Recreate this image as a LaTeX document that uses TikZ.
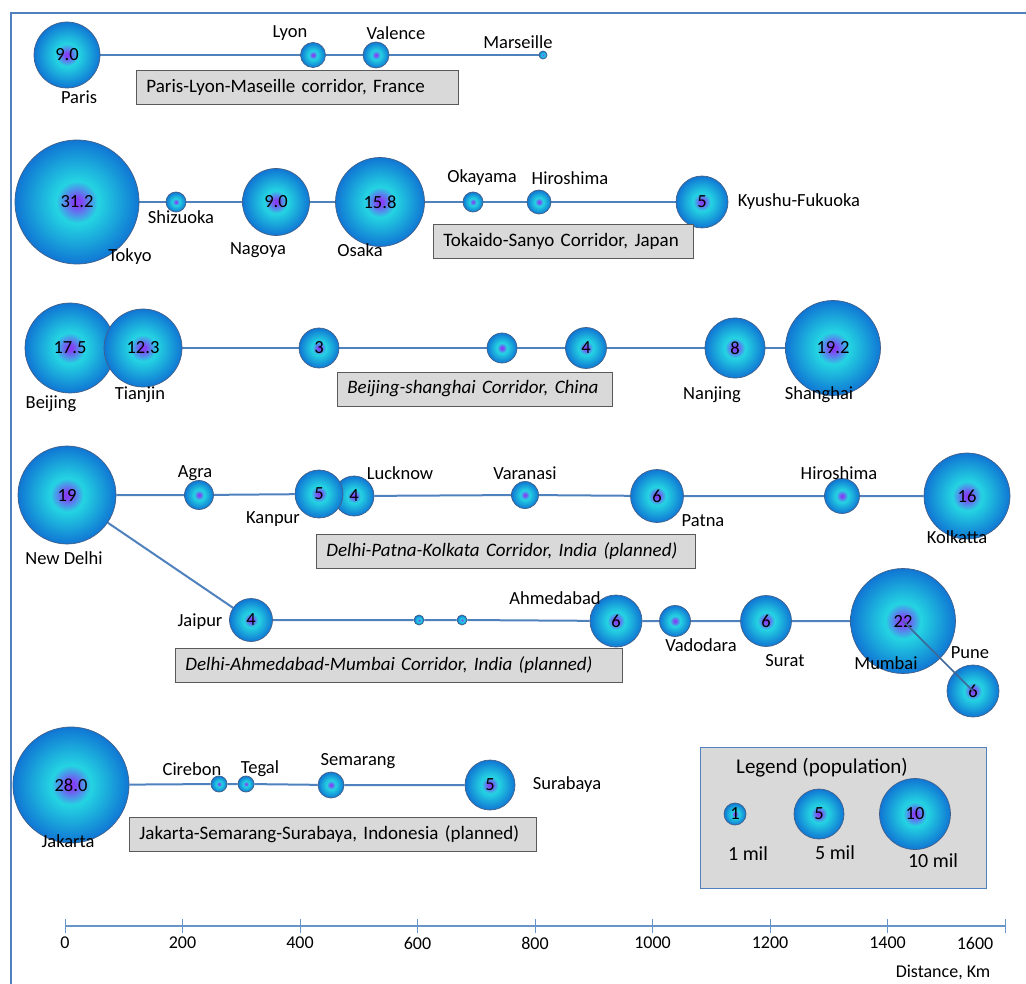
\documentclass[tikz,border=0pt]{standalone}
\usepackage{fontspec}
\setmainfont{Carlito}
\usepackage{tikz}
\usetikzlibrary{positioning,backgrounds}
\definecolor{frameblue}{RGB}{79,129,189}
\definecolor{bubbleblue}{RGB}{16,118,212}
\definecolor{bubblecyan}{RGB}{36,212,226}
\definecolor{bubblepurple}{RGB}{132,64,245}
\definecolor{bubbleedge}{RGB}{66,96,136}
\definecolor{boxgray}{RGB}{217,217,217}
\pgfdeclareradialshading{bubble}{\pgfpoint{0bp}{0bp}}{%
  color(0bp)=(bubblepurple); color(1.5bp)=(bubblepurple); color(8.5bp)=(bubblecyan);
  color(25bp)=(bubbleblue); color(50bp)=(bubbleblue)}
\tikzstyle{corrline} = [
    draw=frameblue,
    line width=2pt
]
\tikzstyle{axisline} = [
    draw=frameblue!85,
    line width=2pt
]

\begin{document}
\begin{tikzpicture}[
    x=1pt, y=-1pt,
    city/.style={circle, draw=bubbleedge, line width=0.7pt, shade, shading=bubble, inner sep=0pt, font=\fontsize{18.5}{20}\selectfont},
    citylabel/.style={inner sep=0pt, font=\fontsize{18.5}{20}\selectfont},
    corrbox/.style={rectangle, draw=black!65, fill=boxgray, line width=0.8pt, anchor=west, minimum height=34, inner xsep=10, align=left, font=\fontsize{19}{21}\selectfont},
    plannedbox/.style={corrbox, font=\fontsize{19}{21}\selectfont\itshape},
    legendbox/.style={rectangle, draw=frameblue, fill=boxgray, line width=1pt},
    ticklabel/.style={inner sep=0pt, font=\fontsize{18}{20}\selectfont}
]
    \useasboundingbox (0,0) rectangle (1026,984);

    % Frame
    \draw[draw=frameblue, line width=2.5pt] (11,984) -- (11,13) -- (1026,13);

    % France
    \node[city, minimum size=66] (paris) at (67,55) {9.0};
    \node[city, minimum size=25] (lyon) at (313,55) {};
    \node[city, minimum size=26] (valence) at (376,55) {};
    \node[city, minimum size=8] (marseille) at (543,55) {};
    \node[citylabel] (parislabel) at (79,97) {Paris};
    \node[citylabel] (lyonlabel) at (290,33) {Lyon};
    \node[citylabel] (valencelabel) at (396,33) {Valence};
    \node[citylabel] (marseillelabel) at (518,42) {Marseille};
    \node[corrbox, text width=302] (france) at (136,87) {Paris-Lyon-Maseille corridor, France};

    % Japan
    \node[city, minimum size=124] (tokyo) at (77,202) {31.2};
    \node[city, minimum size=20] (shizuoka) at (176,202) {};
    \node[city, minimum size=67] (nagoya) at (276,202) {9.0};
    \node[city, minimum size=89] (osaka) at (380,202) {15.8};
    \node[city, minimum size=20] (okayama) at (473,202) {};
    \node[city, minimum size=24] (hiroshima) at (539,202) {};
    \node[city, minimum size=52] (fukuoka) at (702,202) {5};
    \node[citylabel] (tokyolabel) at (130,257) {Tokyo};
    \node[citylabel] (shizuokalabel) at (181,217) {Shizuoka};
    \node[citylabel] (nagoyalabel) at (258,250) {Nagoya};
    \node[citylabel] (osakalabel) at (360,250) {Osaka};
    \node[citylabel] (okayamalabel) at (482,178) {Okayama};
    \node[citylabel] (hiroshimalabel) at (570,178) {Hiroshima};
    \node[citylabel] (fukuokalabel) at (799,202) {Kyushu-Fukuoka};
    \node[corrbox, text width=240] (japan) at (433,241) {Tokaido-Sanyo Corridor, Japan};

    % China
    \node[city, minimum size=90] (beijing) at (70,348) {17.5};
    \node[city, minimum size=78] (tianjin) at (143,348) {12.3};
    \node[city, minimum size=40] (cn3) at (319,348) {3};
    \node[city, minimum size=30] (cnsmall) at (502,348) {};
    \node[city, minimum size=41] (cn4) at (586,348) {4};
    \node[city, minimum size=60] (nanjing) at (735,348) {8};
    \node[city, minimum size=95] (shanghai) at (833,348) {19.2};
    \node[citylabel] (beijinglabel) at (51,404) {Beijing};
    \node[citylabel] (tianjinlabel) at (140,395) {Tianjin};
    \node[citylabel] (nanjinglabel) at (712,395) {Nanjing};
    \node[citylabel] (shanghailabel) at (819,395) {Shanghai};
    \node[plannedbox, text width=255] (china) at (337,389) {Beijing-shanghai Corridor, China};

    % India, Delhi-Patna-Kolkata
    \node[city, minimum size=98] (newdelhi) at (67,495) {19};
    \node[city, minimum size=29] (agra) at (199,495) {};
    \node[city, minimum size=40] (lucknow) at (354,496) {4};
    \node[city, minimum size=48] (kanpur) at (319,494) {5};
    \node[city, minimum size=27] (varanasi) at (525,495) {};
    \node[city, minimum size=53] (patna) at (657,496) {6};
    \node[city, minimum size=35] (hiroshimain) at (842,496) {};
    \node[city, minimum size=86] (kolkatta) at (967,496) {16};
    \node[citylabel] (newdelhilabel) at (64,558) {New Delhi};
    \node[citylabel] (agralabel) at (195,473) {Agra};
    \node[citylabel] (kanpurlabel) at (273,519) {Kanpur};
    \node[citylabel] (lucknowlabel) at (400,473) {Lucknow};
    \node[citylabel] (varanasilabel) at (525,473) {Varanasi};
    \node[citylabel] (patnalabel) at (703,521) {Patna};
    \node[citylabel] (hiroshimainlabel) at (839,473) {Hiroshima};
    \node[citylabel] (kolkattalabel) at (957,537) {Kolkatta};
    \node[plannedbox, text width=359] (eastcorr) at (316,551) {Delhi-Patna-Kolkata Corridor, India (planned)};

    % India, Delhi-Ahmedabad-Mumbai
    \node[city, minimum size=43] (jaipur) at (251,620) {4};
    \node[city, minimum size=10] (wsmall1) at (419,620) {};
    \node[city, minimum size=10] (wsmall2) at (462,620) {};
    \node[city, minimum size=52] (ahmedabad) at (616,621) {6};
    \node[city, minimum size=31] (vadodara) at (675,621) {};
    \node[city, minimum size=51] (surat) at (766,621) {6};
    \node[city, minimum size=105] (mumbai) at (903,621) {22};
    \node[city, minimum size=52] (pune) at (973,691) {6};
    \node[citylabel] (jaipurlabel) at (200,622) {Jaipur};
    \node[citylabel] (ahmedabadlabel) at (555,598) {Ahmedabad};
    \node[citylabel] (vadodaralabel) at (701,645) {Vadodara};
    \node[citylabel] (suratlabel) at (785,661) {Surat};
    \node[citylabel] (mumbailabel) at (886,663) {Mumbai};
    \node[citylabel] (punelabel) at (970,653) {Pune};
    \node[plannedbox, text width=427] (westcorr) at (175,665) {Delhi-Ahmedabad-Mumbai Corridor, India (planned)};
    \draw[draw=frameblue!80!black, line width=1.5pt] (mumbai.center) -- (pune.center);

    % Indonesia
    \node[city, minimum size=116] (jakarta) at (71,785) {28.0};
    \node[city, minimum size=16] (cirebon) at (219,784) {};
    \node[city, minimum size=16] (tegal) at (246,784) {};
    \node[city, minimum size=26] (semarang) at (331,785) {};
    \node[city, minimum size=50] (surabaya) at (490,785) {5};
    \node[citylabel] (jakartalabel) at (68,841) {Jakarta};
    \node[citylabel] (cirebonlabel) at (192,769) {Cirebon};
    \node[citylabel] (tegallabel) at (260,769) {Tegal};
    \node[citylabel] (semaranglabel) at (358,761) {Semarang};
    \node[citylabel] (surabayalabel) at (567,785) {Surabaya};
    \node[corrbox, text width=387] (indonesia) at (129,834) {Jakarta-Semarang-Surabaya, Indonesia (planned)};

    % Legend
    \node[legendbox, minimum width=286, minimum height=141] (legend) at (843,818) {};
    \node[citylabel, font=\fontsize{21}{23}\selectfont] (legendtitle) at (822,768) {Legend (population)};
    \node[city, minimum size=22] (one) at (735,814) {1};
    \node[city, minimum size=50] (five) at (819,814) {5};
    \node[city, minimum size=71] (ten) at (915,814) {10};
    \node[citylabel, font=\fontsize{20}{22}\selectfont] (onelabel) at (748,854) {1 mil};
    \node[citylabel, font=\fontsize{20}{22}\selectfont] (fivelabel) at (835,853) {5 mil};
    \node[citylabel, font=\fontsize{20}{22}\selectfont] (tenlabel) at (933,861) {10 mil};

    % Corridors
    \begin{scope}[on background layer]
        \draw[corrline] (paris) -- (lyon) -- (valence) -- (marseille);
        \draw[corrline] (tokyo) -- (shizuoka) -- (nagoya) -- (osaka) -- (okayama) -- (hiroshima) -- (fukuoka);
        \draw[corrline] (tianjin) -- (cn3) -- (cnsmall) -- (cn4) -- (nanjing) -- (shanghai);
        \draw[corrline] (newdelhi) -- (agra) -- (kanpur);
        \draw[corrline] (lucknow) -- (varanasi) -- (patna) -- (hiroshimain) -- (kolkatta);
        \draw[corrline] (newdelhi) -- (jaipur) -- (wsmall1) -- (wsmall2) -- (ahmedabad) -- (vadodara) -- (surat) -- (mumbai);
        \draw[corrline] (jakarta) -- (cirebon) -- (tegal) -- (semarang) -- (surabaya);
    \end{scope}

    % Distance axis
    \coordinate (axisstart) at (65,926);
    \coordinate (axisend) at (1005,926);
    \draw[axisline] (axisstart) -- (axisend);
    \foreach \km/\shift in {0/0,200/0,400/0,600/0,800/0,1000/0,1200/0,1400/0,1600/-30} {
        \draw[axisline, line width=1pt] ({65+0.5875*\km},919) -- ({65+0.5875*\km},933);
        \node[ticklabel] (tick\km) at ({65+0.5875*\km+\shift},943) {\km};
    }
    \node[ticklabel] (axistitle) at (943,972) {Distance, Km};

\end{tikzpicture}
\end{document}
